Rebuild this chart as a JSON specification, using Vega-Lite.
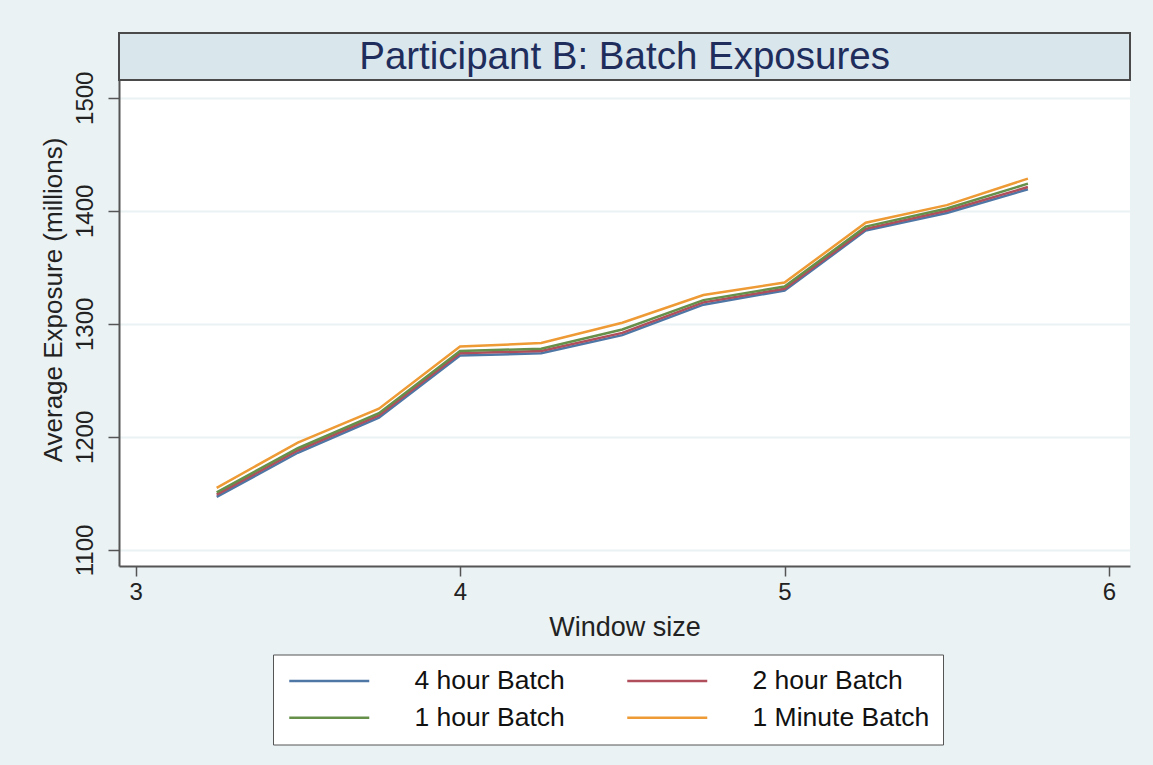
{
  "$schema": "https://vega.github.io/schema/vega-lite/v6.json",
  "width": 1011,
  "height": 533,
  "autosize": {"type": "none"},
  "padding": {"left": 119, "top": 33, "right": 23, "bottom": 199},
  "background": "#EAF2F3",
  "config": {
    "view": {"stroke": null, "fill": "white"},
    "font": "Liberation Sans"
  },
  "layer": [
    {
      "data": {"values": [{"label": "Participant B: Batch Exposures"}]},
      "mark": {"type": "rect", "fill": "#D9E6EC", "stroke": "#4a4a4a", "strokeWidth": 2},
      "encoding": {
        "x": {"datum": 2.949, "type": "quantitative", "scale": {"domain": [2.949, 6.0646], "nice": false, "zero": false}},
        "x2": {"datum": 6.0646},
        "y": {"datum": 1515.66, "type": "quantitative", "scale": {"domain": [1085.84, 1557.26], "nice": false, "zero": false}},
        "y2": {"datum": 1557.26}
      }
    },
    {
      "data": {"values": [{"label": "Participant B: Batch Exposures"}]},
      "mark": {"type": "text", "fontSize": 38.5, "color": "#1E2D5C", "align": "center", "baseline": "middle", "font": "Liberation Sans"},
      "encoding": {
        "x": {"datum": 4.507, "type": "quantitative"},
        "y": {"datum": 1536.0, "type": "quantitative"},
        "text": {"field": "label", "type": "nominal"}
      }
    },
    {
      "data": {
        "values": [
          {"window": 3.25, "batch": "4 hour Batch", "exposure": 1147},
          {"window": 3.5, "batch": "4 hour Batch", "exposure": 1186},
          {"window": 3.75, "batch": "4 hour Batch", "exposure": 1217},
          {"window": 4.0, "batch": "4 hour Batch", "exposure": 1272},
          {"window": 4.25, "batch": "4 hour Batch", "exposure": 1274},
          {"window": 4.5, "batch": "4 hour Batch", "exposure": 1290},
          {"window": 4.75, "batch": "4 hour Batch", "exposure": 1317},
          {"window": 5.0, "batch": "4 hour Batch", "exposure": 1329.5},
          {"window": 5.25, "batch": "4 hour Batch", "exposure": 1382.5},
          {"window": 5.5, "batch": "4 hour Batch", "exposure": 1398},
          {"window": 5.75, "batch": "4 hour Batch", "exposure": 1419},
          {"window": 3.25, "batch": "2 hour Batch", "exposure": 1149},
          {"window": 3.5, "batch": "2 hour Batch", "exposure": 1188},
          {"window": 3.75, "batch": "2 hour Batch", "exposure": 1219},
          {"window": 4.0, "batch": "2 hour Batch", "exposure": 1274},
          {"window": 4.25, "batch": "2 hour Batch", "exposure": 1276},
          {"window": 4.5, "batch": "2 hour Batch", "exposure": 1292},
          {"window": 4.75, "batch": "2 hour Batch", "exposure": 1319},
          {"window": 5.0, "batch": "2 hour Batch", "exposure": 1331},
          {"window": 5.25, "batch": "2 hour Batch", "exposure": 1384},
          {"window": 5.5, "batch": "2 hour Batch", "exposure": 1400},
          {"window": 5.75, "batch": "2 hour Batch", "exposure": 1421},
          {"window": 3.25, "batch": "1 hour Batch", "exposure": 1151},
          {"window": 3.5, "batch": "1 hour Batch", "exposure": 1190},
          {"window": 3.75, "batch": "1 hour Batch", "exposure": 1221},
          {"window": 4.0, "batch": "1 hour Batch", "exposure": 1276},
          {"window": 4.25, "batch": "1 hour Batch", "exposure": 1278},
          {"window": 4.5, "batch": "1 hour Batch", "exposure": 1295},
          {"window": 4.75, "batch": "1 hour Batch", "exposure": 1321},
          {"window": 5.0, "batch": "1 hour Batch", "exposure": 1333},
          {"window": 5.25, "batch": "1 hour Batch", "exposure": 1386},
          {"window": 5.5, "batch": "1 hour Batch", "exposure": 1402},
          {"window": 5.75, "batch": "1 hour Batch", "exposure": 1424},
          {"window": 3.25, "batch": "1 Minute Batch", "exposure": 1155},
          {"window": 3.5, "batch": "1 Minute Batch", "exposure": 1195},
          {"window": 3.75, "batch": "1 Minute Batch", "exposure": 1225},
          {"window": 4.0, "batch": "1 Minute Batch", "exposure": 1280},
          {"window": 4.25, "batch": "1 Minute Batch", "exposure": 1283},
          {"window": 4.5, "batch": "1 Minute Batch", "exposure": 1301},
          {"window": 4.75, "batch": "1 Minute Batch", "exposure": 1325.5},
          {"window": 5.0, "batch": "1 Minute Batch", "exposure": 1336.5},
          {"window": 5.25, "batch": "1 Minute Batch", "exposure": 1389.5},
          {"window": 5.5, "batch": "1 Minute Batch", "exposure": 1405},
          {"window": 5.75, "batch": "1 Minute Batch", "exposure": 1428.5}
        ]
      },
      "mark": {"type": "line", "strokeWidth": 2.5},
      "encoding": {
        "x": {
          "field": "window", "type": "quantitative",
          "axis": {
            "title": "Window size", "values": [3, 4, 5, 6], "format": "d", "grid": false,
            "tickSize": 10, "tickWidth": 1.5, "tickColor": "#555",
            "domainColor": "#555", "domainWidth": 2,
            "labelFontSize": 24, "labelColor": "#222", "labelPadding": 4,
            "titleFontSize": 27, "titleFontWeight": "normal", "titleColor": "#222", "titlePadding": 10,
            "labelFont": "Liberation Sans", "titleFont": "Liberation Sans"
          }
        },
        "y": {
          "field": "exposure", "type": "quantitative",
          "axis": {
            "title": "Average Exposure (millions)", "values": [1100, 1200, 1300, 1400, 1500], "format": "d",
            "grid": true, "gridColor": "#EAF2F3", "gridWidth": 2,
            "tickSize": 11, "tickWidth": 1.5, "tickColor": "#555",
            "domainColor": "#555", "domainWidth": 2,
            "labelAngle": -90, "labelAlign": "center", "labelBaseline": "bottom",
            "labelFontSize": 24, "labelColor": "#222", "labelPadding": 11,
            "titleFontSize": 26, "titleFontWeight": "normal", "titleColor": "#222", "titlePadding": 7,
            "labelFont": "Liberation Sans", "titleFont": "Liberation Sans"
          }
        },
        "color": {
          "field": "batch", "type": "nominal",
          "scale": {
            "domain": ["4 hour Batch", "2 hour Batch", "1 hour Batch", "1 Minute Batch"],
            "range": ["#4E77A6", "#B04E5C", "#66904A", "#EE9A35"]
          },
          "legend": {
            "title": null, "orient": "none", "legendX": 154, "legendY": 621.5,
            "direction": "horizontal", "columns": 2,
            "symbolType": "M-1,0H7", "symbolSize": 400, "symbolStrokeWidth": 2.5,
            "labelFontSize": 26.5, "labelFont": "Liberation Sans", "labelColor": "#111", "labelLimit": 400,
            "labelOffset": 102, "columnPadding": 57, "rowPadding": 10, "padding": 13,
            "fillColor": "white", "strokeColor": "#555"
          }
        }
      }
    }
  ]
}
